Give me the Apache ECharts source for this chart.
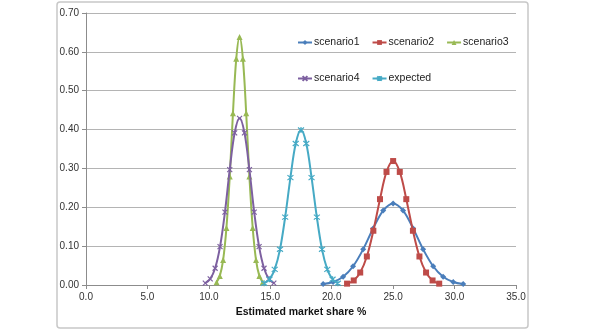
<!DOCTYPE html>
<html>
<head>
<meta charset="utf-8">
<script src="https://cdn.jsdelivr.net/npm/echarts@6/dist/echarts.min.js"></script>
<style>html,body{margin:0;padding:0;background:#fff;}#c{width:596px;height:331px;}</style>
</head>
<body>
<div id="c"></div>
<script>
// x positions (estimated market share %) and y values per series
var s1X = [19.30, 20.11, 20.93, 21.74, 22.56, 23.37, 24.19, 25.00, 25.81, 26.63, 27.44, 28.26, 29.07, 29.89, 30.70];
var s1Y = [0.0023, 0.0076, 0.0211, 0.0483, 0.0919, 0.1455, 0.1916, 0.2100, 0.1916, 0.1455, 0.0919, 0.0483, 0.0211, 0.0076, 0.0023];

var s2X = [21.25, 21.79, 22.32, 22.86, 23.39, 23.93, 24.46, 25.00, 25.54, 26.07, 26.61, 27.14, 27.68, 28.21, 28.75];
var s2Y = [0.0035, 0.0117, 0.0321, 0.0734, 0.1396, 0.2209, 0.2910, 0.3190, 0.2910, 0.2209, 0.1396, 0.0734, 0.0321, 0.0117, 0.0035];

var s3X = [10.63, 10.89, 11.16, 11.43, 11.70, 11.96, 12.23, 12.50, 12.77, 13.04, 13.30, 13.57, 13.84, 14.11, 14.38];
var s3Y = [0.0071, 0.0234, 0.0643, 0.1468, 0.2792, 0.4419, 0.5821, 0.6380, 0.5821, 0.4419, 0.2792, 0.1468, 0.0643, 0.0234, 0.0071];

var s4X = [9.71, 10.11, 10.51, 10.91, 11.31, 11.70, 12.10, 12.50, 12.90, 13.30, 13.69, 14.09, 14.49, 14.89, 15.29];
var s4Y = [0.0048, 0.0157, 0.0432, 0.0987, 0.1877, 0.2971, 0.3914, 0.4290, 0.3914, 0.2971, 0.1877, 0.0987, 0.0432, 0.0157, 0.0048];

var expX = [14.50, 14.93, 15.36, 15.79, 16.21, 16.64, 17.07, 17.50, 17.93, 18.36, 18.79, 19.21, 19.64, 20.07, 20.50];
var expY = [0.0044, 0.0146, 0.0402, 0.0918, 0.1746, 0.2764, 0.3640, 0.3990, 0.3640, 0.2764, 0.1746, 0.0918, 0.0402, 0.0146, 0.0044];

var seriesNames = ['scenario1', 'scenario2', 'scenario3', 'scenario4', 'expected'];
var xAxisTitle = 'Estimated market share %';

function pairs(xs, ys) { return xs.map(function (x, i) { return [x, ys[i]]; }); }

var colors = ['#4A7EBB', '#BE4B48', '#98B954', '#7D60A0', '#46AAC5'];
var symbols = [
  'diamond',
  'rect',
  'triangle',
  'path://M0,0L10,10M10,0L0,10',
  'path://M0,0L10,10M10,0L0,10M5,-1L5,11'
];
var sizes = [6, 6, 6, 5, 6];
var datas = [pairs(s1X, s1Y), pairs(s2X, s2Y), pairs(s3X, s3Y), pairs(s4X, s4Y), pairs(expX, expY)];

var series = datas.map(function (d, i) {
  return {
    name: seriesNames[i],
    type: 'line',
    data: d,
    smooth: 0.35,
    symbol: symbols[i],
    symbolSize: sizes[i],
    showAllSymbol: true,
    lineStyle: { color: colors[i], width: 2 },
    itemStyle: { color: colors[i], borderColor: colors[i], borderWidth: i >= 3 ? 1.2 : 0 },
    emphasis: { disabled: true },
    z: 2 + i
  };
});

var font = 'Liberation Sans, Arial, sans-serif';
var legendCommon = {
  padding: 0,
  itemWidth: 14, itemHeight: 6, itemGap: 12,
  textStyle: { fontFamily: font, fontSize: 10.5, color: '#222', padding: [0, 0, 0, -3] }
};
var chart = echarts.init(document.getElementById('c'), null, { renderer: 'canvas' });
chart.setOption({
  animation: false,
  backgroundColor: '#fff',
  graphic: [{
    type: 'rect',
    shape: { x: 57, y: 2, width: 471, height: 326, r: 3 },
    style: { fill: 'none', stroke: '#c8c8c8', lineWidth: 1.5 },
    silent: true, z: -10
  }],
  legend: [
    Object.assign({ data: seriesNames.slice(0, 3), left: 297, top: 37 }, legendCommon),
    Object.assign({ data: seriesNames.slice(3), left: 297, top: 73 }, legendCommon)
  ],
  grid: { left: 86, right: 80, top: 13, bottom: 46, containLabel: false },
  xAxis: {
    type: 'value', min: 0, max: 35, interval: 5,
    name: xAxisTitle, nameLocation: 'middle', nameGap: 21,
    nameTextStyle: { fontFamily: font, fontSize: 10.5, fontWeight: 'bold', color: '#111' },
    axisLine: { lineStyle: { color: '#8c8c8c', width: 1 } },
    axisTick: { show: true, length: 4, lineStyle: { color: '#8c8c8c' } },
    axisLabel: { fontFamily: font, fontSize: 10, color: '#333', margin: 7,
      formatter: function (v) { return v.toFixed(1); } },
    splitLine: { show: false }
  },
  yAxis: {
    type: 'value', min: 0, max: 0.7, interval: 0.1,
    axisLine: { show: true, lineStyle: { color: '#8c8c8c', width: 1 } },
    axisTick: { show: true, length: 4, lineStyle: { color: '#8c8c8c' } },
    axisLabel: { fontFamily: font, fontSize: 10, color: '#333', margin: 7,
      formatter: function (v) { return v.toFixed(2); } },
    splitLine: { show: true, lineStyle: { color: '#b4b4b4', width: 1 } }
  },
  series: series
});
</script>
</body>
</html>
